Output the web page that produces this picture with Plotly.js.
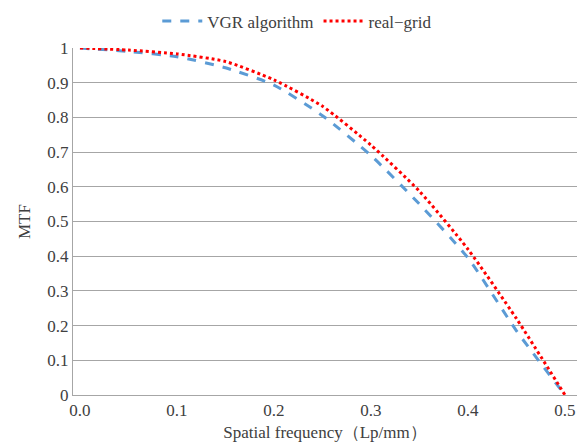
<!DOCTYPE html>
<html><head><meta charset="utf-8">
<script src="https://cdn.plot.ly/plotly-3.0.1.min.js"></script>
<style>html,body{margin:0;padding:0;background:#fff}#chart{width:577px;height:442px}</style>
</head><body><div id="chart"></div>
<script>
var freq = [0, 0.05, 0.1, 0.15, 0.2, 0.25, 0.3, 0.35, 0.4, 0.45, 0.5];
var vgr = [1, 0.99, 0.975, 0.943, 0.893, 0.805, 0.69, 0.55, 0.395, 0.185, 0];
var realGrid = [1, 0.994, 0.983, 0.961, 0.908, 0.832, 0.72, 0.587, 0.42, 0.22, 0];
var xTicks = [0, 0.1, 0.2, 0.3, 0.4, 0.5];
var yTicks = [0, 0.1, 0.2, 0.3, 0.4, 0.5, 0.6, 0.7, 0.8, 0.9, 1];

var font = 'Liberation Serif, DejaVu Serif, serif';
var data = [
  {x: freq, y: vgr, mode: 'lines', name: 'VGR algorithm',
   line: {color: '#5B9BD5', width: 3, dash: 'dash', shape: 'spline', smoothing: 0.6}},
  {x: freq, y: realGrid, mode: 'lines', name: 'real\u2212grid',
   line: {color: '#FF0000', width: 3, dash: 'dot', shape: 'spline', smoothing: 0.6}}
];
var layout = {
  width: 577, height: 442,
  margin: {l: 73, r: 0, t: 48, b: 47},
  paper_bgcolor: '#fff', plot_bgcolor: '#fff',
  font: {family: font, size: 17, color: '#404040'},
  showlegend: true,
  legend: {orientation: 'h', x: 0.445, xanchor: 'center', xref: 'paper',
           y: 1.025, yanchor: 'bottom', itemwidth: 40,
           font: {family: font, size: 17, color: '#404040'}},
  xaxis: {range: [-0.0072, 0.5124], tickvals: xTicks, tickformat: '.1f',
          showgrid: false, zeroline: false, showline: true, linecolor: '#a6a6a6', linewidth: 1,
          ticks: '', tickfont: {size: 17, color: '#404040'},
          title: {text: 'Spatial frequency\uFF08Lp/mm\uFF09', font: {size: 17, color: '#404040'}, standoff: 6}},
  yaxis: {range: [0, 1], tickvals: yTicks, showgrid: true, gridcolor: '#a6a6a6', gridwidth: 1,
          zeroline: false, showline: true, linecolor: '#a6a6a6', linewidth: 1,
          ticks: '', tickfont: {size: 17, color: '#404040'},
          title: {text: 'MTF', font: {size: 17, color: '#404040'}, standoff: 12}}
};
Plotly.newPlot('chart', data, layout, {displayModeBar: false});
</script></body></html>
